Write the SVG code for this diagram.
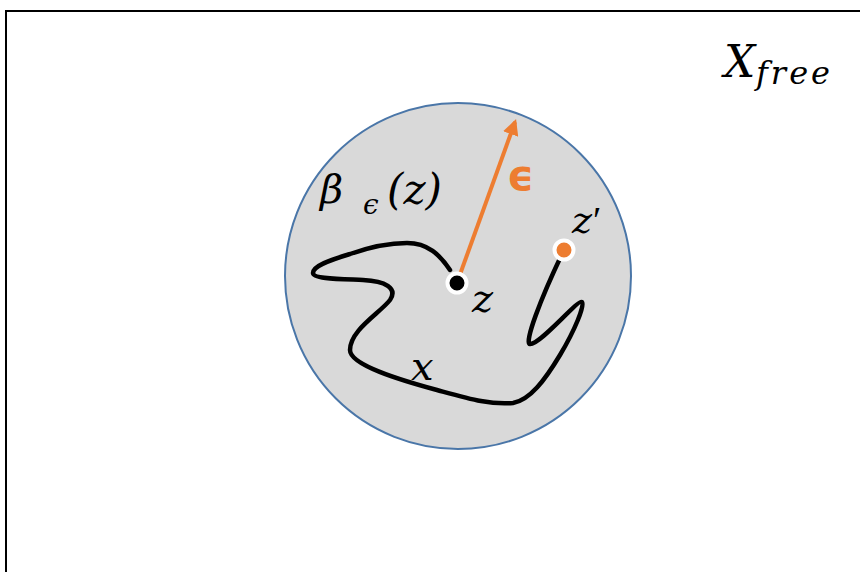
<svg xmlns="http://www.w3.org/2000/svg" width="860" height="572" viewBox="0 0 860 572">
<style>
.math{font-family:"DejaVu Serif","Liberation Serif",serif;font-style:italic;fill:#000}
.eps{font-family:"DejaVu Sans","Liberation Sans",sans-serif;font-weight:bold;fill:#ed7d31}
</style>
<defs>
<marker id="ah" viewBox="0 0 10 10" refX="8" refY="5" markerWidth="4" markerHeight="4" orient="auto" markerUnits="strokeWidth">
<path d="M0,0 L10,5 L0,10 z" fill="#ed7d31"/>
</marker>
</defs>
<rect width="860" height="572" fill="#fff"/>
<path d="M6,572 V11 H860" fill="none" stroke="#000" stroke-width="2"/>
<g id="Xfree">
<text class="math" x="724" y="77" font-size="44">X</text>
<text class="math" x="756" y="84" font-size="32" textLength="74" lengthAdjust="spacing">free</text>
</g>
<g id="ball">
<circle cx="458" cy="276" r="173" fill="#d9d9d9" stroke="#4a76a8" stroke-width="2"/>
<text class="math" x="320" y="203" font-size="40">β</text>
<text class="math" x="363" y="214" font-size="28">ϵ</text>
<text class="math" x="387" y="204" font-size="42">(z)</text>
</g>
<g id="connectors">
<path d="M450,270 C440,255 428,243 407,243 C390,243 370,247 350,254 C330,260 313,266 313,273 C313,279 340,279 363,280 C385,281 398,288 390,300 C380,313 350,330 350,350 C350,365 400,380 437,390 C470,399 490,405 513,403 C530,400 545,380 560,355 C575,330 585,305 582,302 C578,299 540,345 530,344 C524,343 540,300 563,252" fill="none" stroke="#000" stroke-width="4.5" stroke-linecap="round" stroke-linejoin="round"/>
<line x1="458" y1="280" x2="515" y2="122" stroke="#ed7d31" stroke-width="4" marker-end="url(#ah)"/>
<text class="eps" x="507" y="190" font-size="42">ϵ</text>
<text class="math" x="411" y="380" font-size="40">x</text>
<text class="math" x="472" y="312" font-size="40">z</text>
</g>
<g id="z">
<circle cx="457" cy="283" r="9.5" fill="#000" stroke="#fff" stroke-width="4"/>
</g>
<g id="zprime">
<circle cx="564" cy="250" r="9.5" fill="#ed7d31" stroke="#fff" stroke-width="4"/>
<text class="math" x="572" y="233" font-size="38">z<tspan font-style="normal" font-family="Liberation Serif, serif" dx="1">′</tspan></text>
</g>
</svg>
